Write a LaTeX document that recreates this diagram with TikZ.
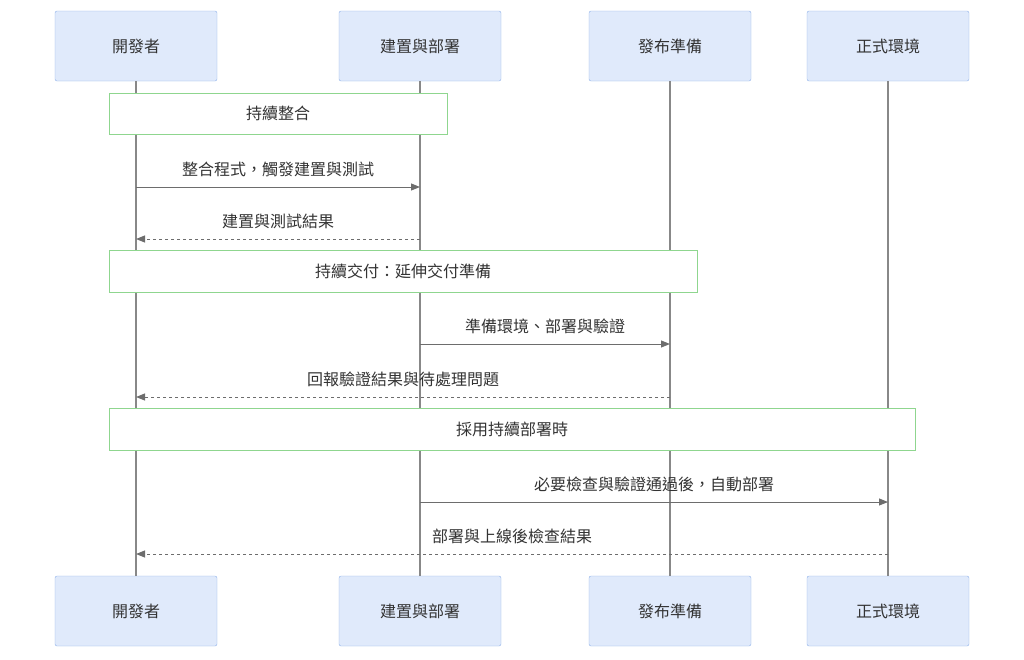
\documentclass[tikz,border=0pt]{standalone}
\usepackage{fontspec}
\setmainfont{Noto Sans CJK TC}
\usetikzlibrary{arrows.meta}
\definecolor{actfill}{HTML}{E0EAFB}
\definecolor{actdraw}{HTML}{8EB1E8}
\definecolor{notedraw}{HTML}{8FD68F}
\definecolor{ln}{HTML}{888888}
\definecolor{tx}{HTML}{333333}
\begin{document}
\begin{tikzpicture}[x=1pt,y=-1pt,
 actor/.style={draw=actdraw,fill=actfill,rounded corners=2pt,minimum width=162pt,minimum height=70pt,inner sep=0pt,text=tx,font=\fontsize{16}{18}\selectfont},
 note/.style={draw=notedraw,fill=white,inner sep=0pt,text=tx,font=\fontsize{16}{18}\selectfont},
 life/.style={draw=ln,line width=1.5pt},
 msg/.style={draw=ln!80!black,line width=1pt,-{Triangle[length=9pt,width=7pt]}},
 rep/.style={msg,dash pattern=on 3pt off 3pt},
 lbl/.style={text=tx,font=\fontsize{16}{18}\selectfont}]
\useasboundingbox (0,0) rectangle (1024,659);
\foreach \n/\x/\t in {a/136/開發者,b/420/建置與部署,c/670/發布準備,d/888/正式環境}{
 \node[actor] (\n t) at (\x,46) {\t};
 \node[actor] (\n b) at (\x,611) {\t};
 \draw[life] (\n t.south) -- (\n b.north);
}
\node[note,minimum width=338pt,minimum height=41pt] (n1) at (278,113.5) {持續整合};
\coordinate (a1) at (136,187); \coordinate (b1) at (420,187);
\draw[msg] (a1) -- (b1) node[lbl,midway,above=6pt] {整合程式，觸發建置與測試};
\coordinate (a2) at (136,239); \coordinate (b2) at (420,239);
\draw[rep] (b2) -- (a2) node[lbl,midway,above=6pt] {建置與測試結果};
\node[note,minimum width=588pt,minimum height=42pt] (n2) at (403,271) {持續交付：延伸交付準備};
\coordinate (b3) at (420,344); \coordinate (c3) at (670,344);
\draw[msg] (b3) -- (c3) node[lbl,midway,above=6pt] {準備環境、部署與驗證};
\coordinate (c4) at (670,397); \coordinate (a4) at (136,397);
\draw[rep] (c4) -- (a4) node[lbl,midway,above=6pt] {回報驗證結果與待處理問題};
\node[note,minimum width=806pt,minimum height=42pt] (n3) at (512,429) {採用持續部署時};
\coordinate (b5) at (420,502); \coordinate (d5) at (888,502);
\draw[msg] (b5) -- (d5) node[lbl,midway,above=6pt] {必要檢查與驗證通過後，自動部署};
\coordinate (d6) at (888,554); \coordinate (a6) at (136,554);
\draw[rep] (d6) -- (a6) node[lbl,midway,above=6pt] {部署與上線後檢查結果};
\end{tikzpicture}
\end{document}
